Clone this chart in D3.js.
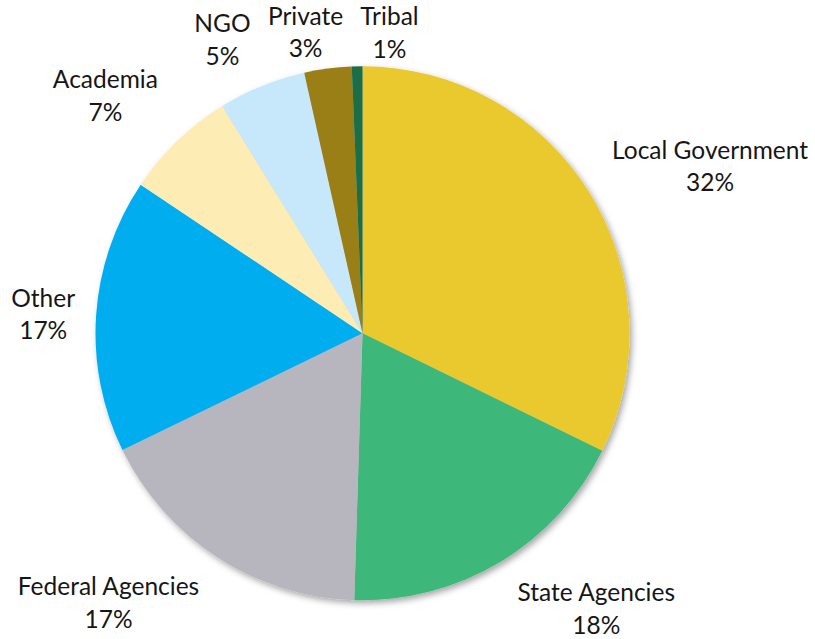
<!DOCTYPE html>
<html>
<head>
<meta charset="utf-8">
<script src="https://cdn.jsdelivr.net/npm/d3@7/dist/d3.min.js"></script>
<style>
  html, body { margin: 0; padding: 0; background: #fff; }
  svg { display: block; }
  text { font-family: Lato, "Open Sans", sans-serif; fill: #161616; }
</style>
</head>
<body>
<svg id="chart" width="815" height="639"></svg>
<script>
// Share of participants by sector (percent), clockwise from 12 o'clock
const sectors = ["Local Government", "State Agencies", "Federal Agencies", "Other",
                 "Academia", "NGO", "Private", "Tribal"];
const shares  = [32.25, 18.23, 17.3, 16.6, 6.8, 5.3, 2.86, 0.64];
const colors  = ["#EAC92E", "#3EB87A", "#B7B6BE", "#00AEEF",
                 "#FEECB5", "#C7E8FA", "#9A7E12", "#1E6E48"];

// Label placement: nudge from a point just outside each slice's mid-angle
const labelOffset = {
  "Local Government": [93, -16],
  "State Agencies":   [79, 11],
  "Federal Agencies": [-91, 10],
  "Other":            [-20, -6],
  "Academia":         [-49, -29],
  "NGO":              [-27, -23],
  "Private":          [-18, -11],
  "Tribal":           [33, -8]
};

const data = sectors.map((name, i) => ({ name, value: shares[i], color: colors[i] }));

const svg = d3.select("#chart");
const cx = 362.5, cy = 333.3, radius = 267;
const fontSize = 24.5, lineGap = 32.5;

// soft shadow under the pie
const defs = svg.append("defs");
const f = defs.append("filter").attr("id", "shadow")
  .attr("x", "-10%").attr("y", "-10%").attr("width", "120%").attr("height", "120%");
f.append("feDropShadow").attr("dx", 2.5).attr("dy", 3).attr("stdDeviation", 3)
  .attr("flood-color", "#000").attr("flood-opacity", 0.35);

const pie = d3.pie().value(d => d.value).sort(null);
const arcs = pie(data);
const total = d3.sum(shares);
const arc = d3.arc().innerRadius(0).outerRadius(radius);

const g = svg.append("g").attr("transform", `translate(${cx},${cy})`);
const slices = g.append("g").attr("filter", "url(#shadow)");
slices.selectAll("path").data(arcs).join("path")
  .attr("d", arc)
  .attr("fill", d => d.data.color);

// labels: name on the first line, rounded percent on the second
const labelR = radius + 33;
const labels = g.append("g").selectAll("text").data(arcs).join("text")
  .attr("text-anchor", "middle")
  .attr("font-size", fontSize)
  .attr("transform", d => {
    const a = (d.startAngle + d.endAngle) / 2;
    const off = labelOffset[d.data.name];
    const x = labelR * Math.sin(a) + off[0];
    const y = -labelR * Math.cos(a) + off[1];
    return `translate(${x},${y})`;
  });
labels.append("tspan").attr("x", 0).attr("y", 0).text(d => d.data.name);
labels.append("tspan").attr("x", 0).attr("y", lineGap)
  .text(d => Math.round(d.data.value / total * 100) + "%");
</script>
</body>
</html>
